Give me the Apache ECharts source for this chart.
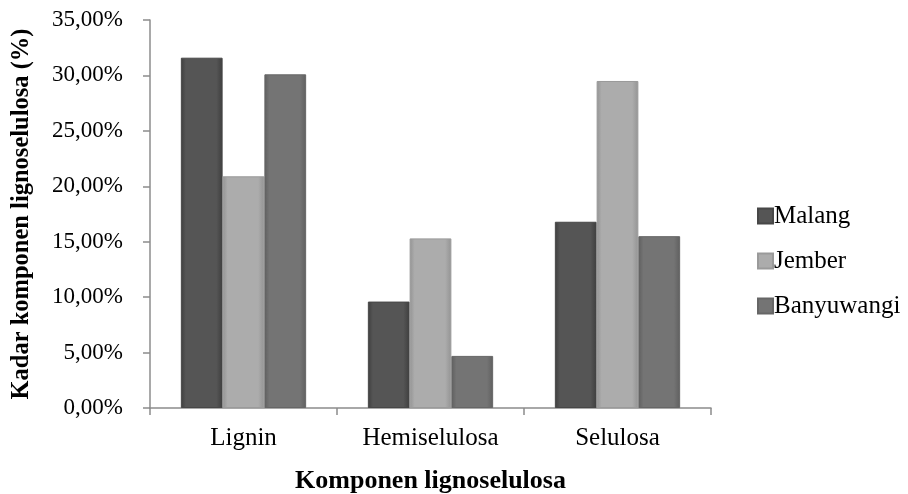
<!DOCTYPE html>
<html>
<head>
<meta charset="utf-8">
<style>html,body{margin:0;padding:0;background:#fff}#c{width:908px;height:494px}</style>
<script src="https://cdn.jsdelivr.net/npm/echarts@6/dist/echarts.min.js"></script>
</head>
<body>
<div id="c"></div>
<script>
var categories = ['Lignin', 'Hemiselulosa', 'Selulosa'];
var malang = [31.6, 9.6, 16.8];
var jember = [20.9, 15.3, 29.5];
var banyuwangi = [30.1, 4.7, 15.5];
var seriesNames = ['Malang', 'Jember', 'Banyuwangi'];

function grad(edge, mid) {
  return new echarts.graphic.LinearGradient(0, 0, 1, 0, [
    {offset: 0, color: edge},
    {offset: 0.12, color: mid},
    {offset: 0.85, color: mid},
    {offset: 1, color: edge}
  ]);
}
var font = 'Liberation Serif, Times New Roman, serif';
var chart = echarts.init(document.getElementById('c'));
function mk(name, data, edge, mid, border) {
  return {
    name: name, type: 'bar', data: data, barGap: '0%', barCategoryGap: '33%',
    itemStyle: {color: grad(edge, mid), borderColor: border, borderWidth: 1},
    emphasis: {disabled: true}
  };
}
chart.setOption({
  animation: false,
  textStyle: {fontFamily: font},
  grid: {left: 150, right: 197, top: 20, bottom: 86, containLabel: false, outerBoundsMode: 'none'},
  legend: {
    orient: 'vertical', left: 752, top: 196, icon: 'rect',
    itemWidth: 15, itemHeight: 15, itemGap: 15,
    data: seriesNames,
    textStyle: {fontFamily: font, fontSize: 25, color: '#000', lineHeight: 30, padding: [0, 0, 0, -4]}
  },
  xAxis: {
    type: 'category', data: categories,
    name: 'Komponen lignoselulosa', nameLocation: 'middle', nameGap: 60,
    nameTextStyle: {fontFamily: font, fontSize: 26, fontWeight: 'bold', color: '#000'},
    axisLine: {lineStyle: {color: '#8c8c8c', width: 1.5}},
    axisTick: {show: true, length: 7, lineStyle: {color: '#8c8c8c', width: 1.5}},
    axisLabel: {fontFamily: font, fontSize: 25, color: '#000', margin: 18}
  },
  yAxis: {
    type: 'value', min: 0, max: 35, interval: 5,
    name: 'Kadar komponen lignoselulosa (%)', nameLocation: 'middle', nameGap: 116,
    nameTextStyle: {fontFamily: font, fontSize: 24.5, fontWeight: 'bold', color: '#000'},
    axisLine: {show: true, lineStyle: {color: '#8c8c8c', width: 1.5}},
    axisTick: {show: true, inside: false, length: 7, lineStyle: {color: '#8c8c8c', width: 1.5}},
    splitLine: {show: false},
    axisLabel: {
      fontFamily: font, fontSize: 23, color: '#000', margin: 27,
      formatter: function (v) { return v.toFixed(2).replace('.', ',') + '%'; }
    }
  },
  series: [
    mk(seriesNames[0], malang, '#3e3e3e', '#555555', '#474747'),
    mk(seriesNames[1], jember, '#939393', '#acacac', '#9a9a9a'),
    mk(seriesNames[2], banyuwangi, '#5f5f5f', '#747474', '#666666')
  ]
});
</script>
</body>
</html>
